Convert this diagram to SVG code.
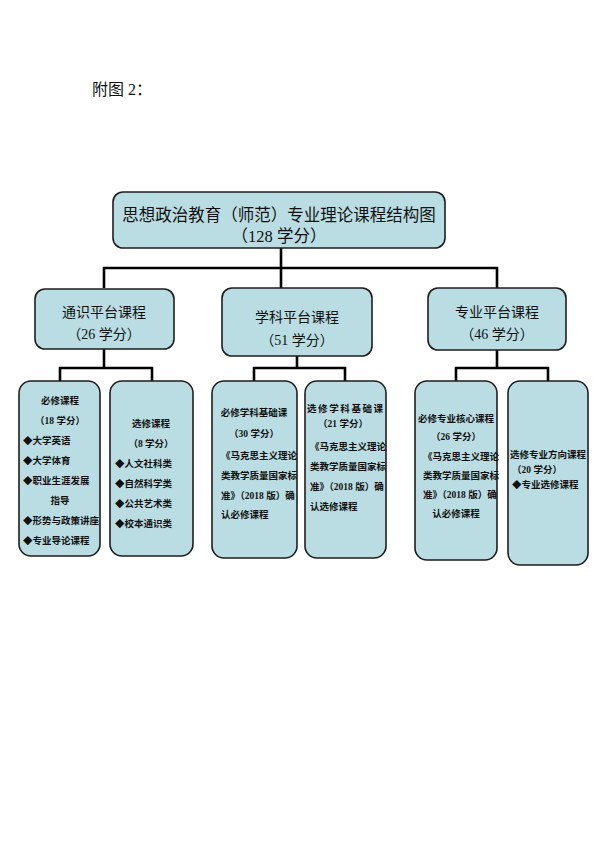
<svg xmlns="http://www.w3.org/2000/svg" width="599" height="848" viewBox="0 0 599 848">
<style>
.bg{fill:#ffffff}
.box{fill:#b9dde2;stroke:#1e1e1e;stroke-width:1.6}
.ln{fill:none;stroke:#000;stroke-width:2.6}
text{font-family:"Liberation Serif","Noto Sans CJK SC",serif;fill:#111}
.t1{font-size:16.5px}
.t2{font-size:14px}
.t3{font-size:9.5px;font-weight:bold}
.c{text-anchor:middle}
</style>
<rect class="bg" x="0" y="0" width="599" height="848"/>
<text x="92" y="95" style="font-size:16px">附图 2：</text>
<g id="connectors">
<path class="ln" d="M281,248 V288 M104,288 V268 H497 V288"/>
<path class="ln" d="M104,349 V368 M60,381 V368 H152 V381"/>
<path class="ln" d="M297,356 V368 M254,381 V368 H345 V381"/>
<path class="ln" d="M497,350 V368 M456,381 V368 H548 V381"/>
</g>
<g id="root">
<rect class="box" x="113" y="192" width="332" height="56" rx="10"/>
<text class="t1 c" x="279" y="221">思想政治教育（师范）专业理论课程结构图</text>
<text class="t1 c" x="279" y="242">（128 学分）</text>
</g>
<g id="general">
<rect class="box" x="35" y="289" width="139" height="60" rx="10"/>
<text class="t2 c" x="104" y="317">通识平台课程</text>
<text class="t2 c" x="104" y="339">（26 学分）</text>
</g>
<g id="discipline">
<rect class="box" x="222" y="288" width="150" height="68" rx="10"/>
<text class="t2 c" x="297" y="322">学科平台课程</text>
<text class="t2 c" x="297" y="345">（51 学分）</text>
</g>
<g id="major">
<rect class="box" x="428" y="288" width="138" height="62" rx="10"/>
<text class="t2 c" x="497" y="317">专业平台课程</text>
<text class="t2 c" x="497" y="339">（46 学分）</text>
</g>
<g id="gen-req">
<rect class="box" x="19" y="381" width="81" height="175" rx="12"/>
<text class="t3 c" x="60" y="404">必修课程</text>
<text class="t3 c" x="60" y="424">（18 学分）</text>
<text class="t3" x="23" y="444">◆大学英语</text>
<text class="t3" x="23" y="464">◆大学体育</text>
<text class="t3" x="23" y="484">◆职业生涯发展</text>
<text class="t3 c" x="60" y="504">指导</text>
<text class="t3" x="23" y="524">◆形势与政策讲座</text>
<text class="t3" x="23" y="544">◆专业导论课程</text>
</g>
<g id="gen-elec">
<rect class="box" x="110" y="381" width="83" height="175" rx="12"/>
<text class="t3 c" x="151" y="427">选修课程</text>
<text class="t3 c" x="151" y="447">（8 学分）</text>
<text class="t3" x="115" y="467">◆人文社科类</text>
<text class="t3" x="115" y="487">◆自然科学类</text>
<text class="t3" x="115" y="507">◆公共艺术类</text>
<text class="t3" x="115" y="527">◆校本通识类</text>
</g>
<g id="dis-req">
<rect class="box" x="212" y="381" width="85" height="177" rx="12"/>
<text class="t3 c" x="254" y="416">必修学科基础课</text>
<text class="t3 c" x="254" y="437">（30 学分）</text>
<text class="t3" x="221" y="459">《马克思主义理论</text>
<text class="t3" x="221" y="479">类教学质量国家标</text>
<text class="t3" x="221" y="499">准》（2018 版）确</text>
<text class="t3" x="221" y="518">认必修课程</text>
</g>
<g id="dis-elec">
<rect class="box" x="305" y="381" width="81" height="177" rx="12"/>
<text class="t3" x="307" y="412" style="letter-spacing:1.6px">选修学科基础课</text>
<text class="t3" x="318" y="427">（21 学分）</text>
<text class="t3" x="310" y="450">《马克思主义理论</text>
<text class="t3" x="310" y="470">类教学质量国家标</text>
<text class="t3" x="310" y="490">准》（2018 版）确</text>
<text class="t3" x="310" y="510">认选修课程</text>
</g>
<g id="maj-req">
<rect class="box" x="415" y="381" width="82" height="179" rx="12"/>
<text class="t3 c" x="456" y="422">必修专业核心课程</text>
<text class="t3 c" x="456" y="440">（26 学分）</text>
<text class="t3" x="423" y="460">《马克思主义理论</text>
<text class="t3" x="423" y="479">类教学质量国家标</text>
<text class="t3" x="423" y="498">准》（2018 版）确</text>
<text class="t3 c" x="456" y="517">认必修课程</text>
</g>
<g id="maj-elec">
<rect class="box" x="508" y="381" width="80" height="184" rx="12"/>
<text class="t3" x="510" y="458">选修专业方向课程</text>
<text class="t3" x="512" y="473">（20 学分）</text>
<text class="t3" x="512" y="488">◆专业选修课程</text>
</g>
</svg>
